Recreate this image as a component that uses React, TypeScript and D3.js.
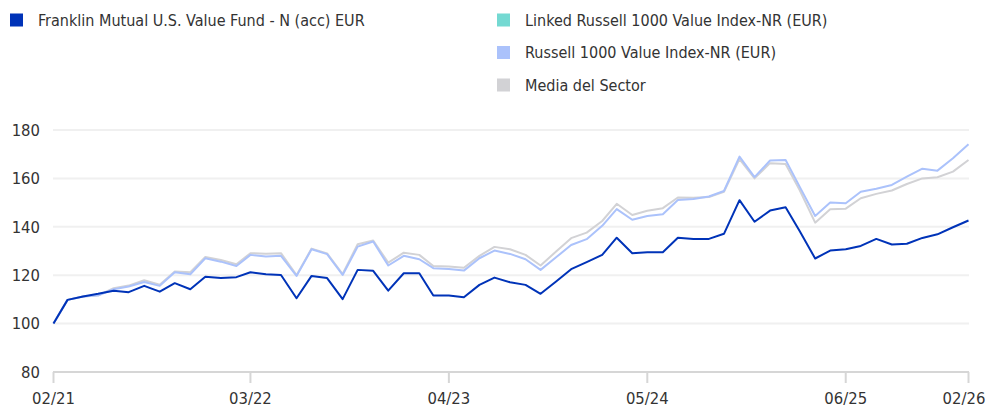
import React from "react";
import * as d3 from "d3";

// monthly points, 02/21 .. 02/26
const startMonth = new Date(2021, 1, 1);
const fund = [100, 109.8, 111.2, 112.3, 113.6, 113.0, 115.6, 113.2, 116.7, 114.2, 119.4, 118.8, 119.2, 121.2, 120.4, 120.1, 110.5, 119.7, 118.8, 110.1, 122.2, 121.8, 113.6, 120.8, 120.8, 111.6, 111.6, 110.9, 116.0, 119.0, 117.1, 116.0, 112.3, 117.4, 122.5, 125.4, 128.4, 135.5, 129.1, 129.5, 129.5, 135.5, 135.0, 135.0, 137.1, 151.0, 142.1, 146.7, 148.1, 138.3, 126.9, 130.2, 130.7, 132.1, 135.0, 132.7, 133.0, 135.4, 136.9, 139.8, 142.6];
const russell = [100, 109.8, 111.2, 111.7, 114.2, 115.3, 117.2, 115.6, 121.2, 120.4, 127.0, 125.6, 123.8, 128.4, 127.7, 128.0, 119.7, 130.7, 128.7, 120.1, 131.8, 133.9, 124.0, 128.0, 126.6, 122.9, 122.6, 121.9, 127.0, 130.2, 128.8, 126.6, 122.2, 127.4, 132.5, 134.9, 140.4, 147.3, 142.9, 144.5, 145.2, 151.1, 151.5, 152.5, 154.8, 169.0, 160.5, 167.4, 167.6, 156.6, 144.5, 150.0, 149.7, 154.5, 155.7, 157.3, 160.7, 164.0, 163.2, 168.3, 174.1];
const sector = [100, 109.8, 111.2, 111.6, 114.6, 115.7, 117.9, 116.1, 121.5, 121.2, 127.5, 126.3, 124.5, 129.1, 128.9, 129.1, 120.0, 131.0, 129.0, 120.5, 132.8, 134.3, 125.2, 129.3, 128.4, 123.8, 123.6, 123.1, 128.0, 131.7, 130.7, 128.4, 124.0, 129.8, 135.3, 137.6, 142.4, 149.5, 144.9, 146.6, 147.7, 152.1, 152.0, 152.3, 154.5, 168.0, 160.0, 166.3, 165.9, 155.2, 141.7, 147.3, 147.5, 151.8, 153.6, 155.0, 157.7, 160.0, 160.5, 162.8, 167.6];

const xTickLabels = ["02/21", "03/22", "04/23", "05/24", "06/25", "02/26"];
const yTicks = [80, 100, 120, 140, 160, 180];

const legendItems = [
  { name: "Franklin Mutual U.S. Value Fund - N (acc) EUR", color: "#0033b8", col: 0, row: 0 },
  { name: "Linked Russell 1000 Value Index-NR (EUR)", color: "#74d9d2", col: 1, row: 0 },
  { name: "Russell 1000 Value Index-NR (EUR)", color: "#abc2fb", col: 1, row: 1 },
  { name: "Media del Sector", color: "#d2d2d5", col: 1, row: 2 },
];

const W = 989;
const H = 408;
const FONT = "'DejaVu Sans Condensed', 'Liberation Sans Narrow', Arial, sans-serif";

const parseLabel = (s: string) => {
  const [m, y] = s.split("/");
  return new Date(2000 + +y, +m - 1, 1);
};

export default function App() {
  const dates = fund.map((_, i) => d3.timeMonth.offset(startMonth, i));

  const x = d3
    .scaleTime()
    .domain([dates[0], dates[dates.length - 1]])
    .range([53.5, 968.5]);
  const y = d3.scaleLinear().domain([80, 180]).range([372, 130]);

  const line = d3
    .line<number>()
    .x((_, i) => x(dates[i]))
    .y((d) => y(d));

  const series = [
    { data: sector, color: "#d2d2d5" },
    { data: russell, color: "#abc2fb" },
    { data: fund, color: "#0033b8" },
  ];

  return (
    <svg
      width={W}
      height={H}
      style={{ position: "absolute", left: 0, top: 0, background: "#fff" }}
      fontFamily={FONT}
    >
      {/* legend */}
      {legendItems.map((l) => {
        const lx = l.col === 0 ? 10 : 497;
        const ly = 20 + l.row * 32.5;
        return (
          <g key={l.name} transform={`translate(${lx},${ly})`}>
            <rect x={0} y={-6.5} width={13} height={13} fill={l.color} />
            <text x={28} y={0} dy="0.35em" fontSize={16} fill="#333">
              {l.name}
            </text>
          </g>
        );
      })}

      {/* grid */}
      {yTicks
        .filter((t) => t > 80)
        .map((t) => (
          <line key={t} x1={53} x2={969} y1={y(t)} y2={y(t)} stroke="#f0f0f0" strokeWidth={2} />
        ))}
      {yTicks.map((t) => (
        <text key={t} x={40} y={y(t)} dy="0.35em" textAnchor="end" fontSize={16.5} fill="#333">
          {t}
        </text>
      ))}

      {/* x axis */}
      <line x1={53} x2={969} y1={y(80)} y2={y(80)} stroke="#d6d6d6" strokeWidth={2} />
      {xTickLabels.map((s) => {
        const tx = x(parseLabel(s));
        return (
          <g key={s}>
            <line x1={tx} x2={tx} y1={y(80)} y2={y(80) + 11} stroke="#d6d6d6" strokeWidth={2} />
            <text
              x={Math.min(tx, W - 25)}
              y={398}
              dy="0.35em"
              textAnchor="middle"
              fontSize={16.5}
              fill="#333"
            >
              {s}
            </text>
          </g>
        );
      })}

      {/* lines */}
      {series.map((s) => (
        <path
          key={s.color}
          d={line(s.data) || ""}
          fill="none"
          stroke={s.color}
          strokeWidth={2}
          strokeLinejoin="round"
        />
      ))}
    </svg>
  );
}
